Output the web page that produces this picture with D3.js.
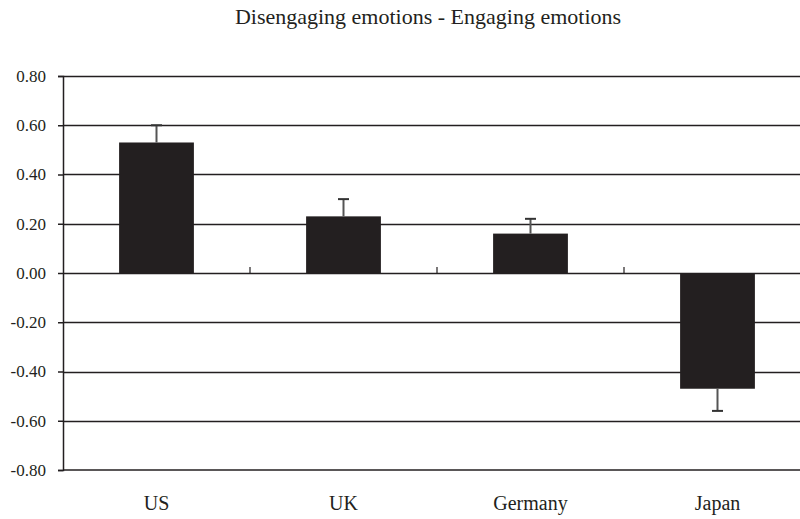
<!DOCTYPE html>
<html>
<head>
<meta charset="utf-8">
<script src="https://cdn.jsdelivr.net/npm/d3@7"></script>
<style>
  body { margin: 0; background: #fff; }
  svg text { font-family: "Liberation Serif", "DejaVu Serif", serif; fill: #231f20; }
</style>
</head>
<body>
<svg id="chart" width="800" height="519"></svg>
<script>
const countries = ["US", "UK", "Germany", "Japan"];
const means = [0.53, 0.23, 0.16, -0.47];
const errorEnds = [0.60, 0.30, 0.22, -0.56];
const yTicks = [0.8, 0.6, 0.4, 0.2, 0, -0.2, -0.4, -0.6, -0.8];
const title = "Disengaging emotions - Engaging emotions";

const svg = d3.select("#chart");

// plot area runs a bit past the right edge, like the original crop
const plotLeft = 63, plotRight = 811, plotTop = 76, plotBottom = 470;

const x = d3.scaleBand()
  .domain(countries)
  .range([plotLeft, plotRight])
  .paddingInner(0.6)
  .paddingOuter(0.3);

const y = d3.scaleLinear().domain([-0.8, 0.8]).range([plotBottom, plotTop]);

// title
svg.append("text")
  .attr("x", 428)
  .attr("y", 24)
  .attr("text-anchor", "middle")
  .style("font-size", "22px")
  .text(title);

// gridlines
svg.append("g")
  .selectAll("line")
  .data(yTicks.filter((d) => d > -0.8))
  .join("line")
  .attr("x1", plotLeft)
  .attr("x2", plotRight)
  .attr("y1", (d) => Math.round(y(d)) + 0.5)
  .attr("y2", (d) => Math.round(y(d)) + 0.5)
  .attr("stroke", "#231f20")
  .attr("stroke-width", 1.5);

// y axis - plain hyphen for negatives, like the original
const fmt = (d) => d.toFixed(2);
const yAxis = d3.axisLeft(y)
  .tickValues(yTicks)
  .tickSize(5)
  .tickPadding(12)
  .tickFormat(fmt);

const yg = svg.append("g")
  .attr("transform", `translate(${plotLeft},0)`)
  .call(yAxis)
  .attr("font-family", "Liberation Serif, serif")
  .attr("font-size", 17);
yg.select(".domain").attr("stroke", "#231f20").attr("stroke-width", 1.5);
yg.selectAll(".tick line").attr("stroke", "#231f20").attr("stroke-width", 1.5);
yg.selectAll(".tick text").attr("fill", "#231f20");

// bottom border line
svg.append("line")
  .attr("x1", plotLeft)
  .attr("x2", plotRight)
  .attr("y1", plotBottom)
  .attr("y2", plotBottom)
  .attr("stroke", "#231f20")
  .attr("stroke-width", 1.5);

// bars
svg.append("g")
  .selectAll("rect")
  .data(countries)
  .join("rect")
  .attr("x", (d) => x(d))
  .attr("width", x.bandwidth())
  .attr("y", (d, i) => y(Math.max(0, means[i])))
  .attr("height", (d, i) => Math.abs(y(means[i]) - y(0)))
  .attr("fill", "#231f20");

// category separator ticks on the zero line
const seps = countries.slice(1).map((d) => x(d) - (x.step() - x.bandwidth()) / 2);
svg.append("g")
  .selectAll("line")
  .data(seps)
  .join("line")
  .attr("x1", (d) => d)
  .attr("x2", (d) => d)
  .attr("y1", y(0) - 6)
  .attr("y2", y(0))
  .attr("stroke", "#231f20")
  .attr("stroke-width", 1.2);

// error bars (one-sided)
const errG = svg.append("g");
countries.forEach((c, i) => {
  const cx = x(c) + x.bandwidth() / 2;
  errG.append("line")
    .attr("x1", cx).attr("x2", cx)
    .attr("y1", y(means[i])).attr("y2", y(errorEnds[i]))
    .attr("stroke", "#555").attr("stroke-width", 2);
  errG.append("line")
    .attr("x1", cx - 5.5).attr("x2", cx + 5.5)
    .attr("y1", y(errorEnds[i])).attr("y2", y(errorEnds[i]))
    .attr("stroke", "#333").attr("stroke-width", 2);
});

// category labels
svg.append("g")
  .selectAll("text")
  .data(countries)
  .join("text")
  .attr("x", (d) => x(d) + x.bandwidth() / 2)
  .attr("y", 510)
  .attr("text-anchor", "middle")
  .style("font-size", "20px")
  .text((d) => d);
</script>
</body>
</html>
